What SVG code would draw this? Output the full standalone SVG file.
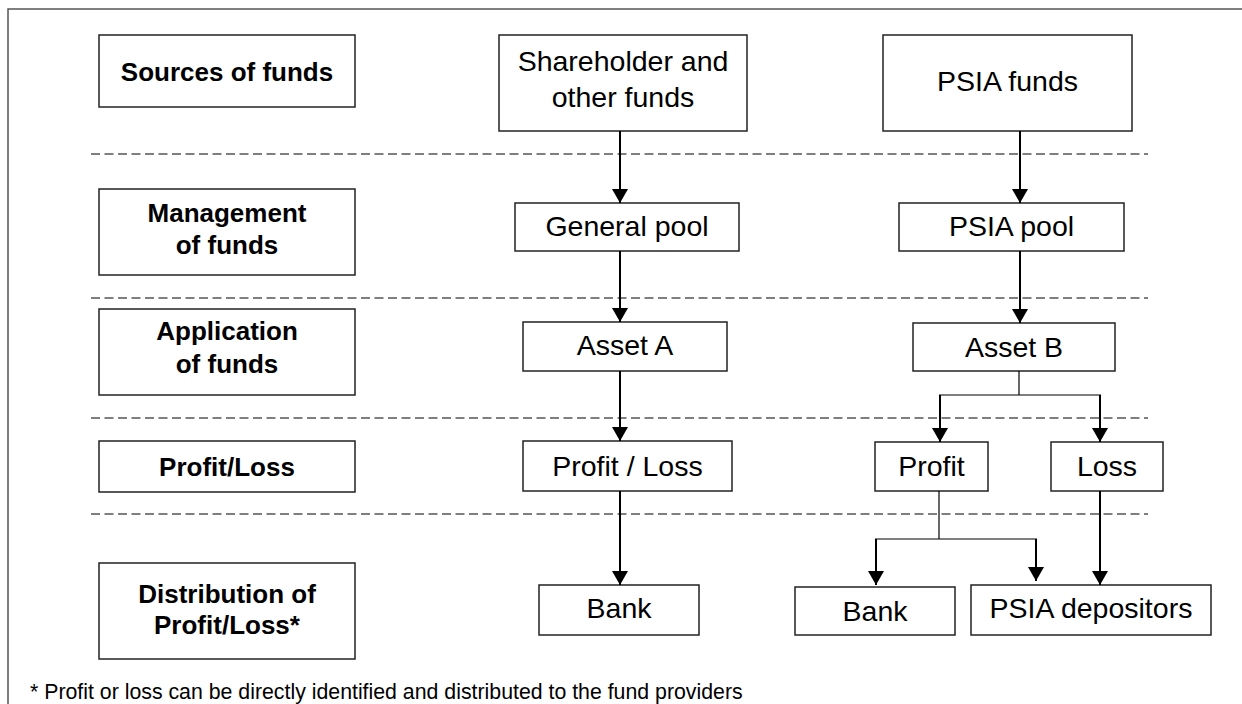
<svg xmlns="http://www.w3.org/2000/svg" width="1242" height="704" viewBox="0 0 1242 704">
<style>
.frame{fill:none;stroke:#555;stroke-width:1.5}
.box{fill:#fff;stroke:#222;stroke-width:1.5}
.dash{stroke:#555;stroke-width:1.6;stroke-dasharray:9 4.5;fill:none}
.lbl{font-family:"Liberation Sans",Arial,sans-serif;font-weight:bold;font-size:26px;fill:#000;text-anchor:middle}
.txt{font-family:"Liberation Sans",Arial,sans-serif;font-size:28.5px;fill:#000;text-anchor:middle}
.note{font-family:"Liberation Sans",Arial,sans-serif;font-size:21.3px;fill:#000}
.arr{stroke:#000;stroke-width:2;fill:none;marker-end:url(#ah)}
.thin{stroke:#000;stroke-width:1.2;fill:none}
</style>
<defs>
<marker id="ah" markerUnits="userSpaceOnUse" markerWidth="15" markerHeight="16" refX="14" refY="8" orient="auto" viewBox="0 0 15 16">
<path d="M0,0 L14,8 L0,16 Z" fill="#000"/>
</marker>
</defs>
<rect width="1242" height="704" fill="#fff"/>
<path class="frame" d="M8,706 V9 H1244"/>
<g id="separators">
<line class="dash" x1="91" y1="154" x2="1148" y2="154"/>
<line class="dash" x1="91" y1="298" x2="1148" y2="298"/>
<line class="dash" x1="91" y1="418" x2="1148" y2="418"/>
<line class="dash" x1="91" y1="514" x2="1148" y2="514"/>
</g>
<g id="label-sources"><rect class="box" x="99" y="35" width="256" height="72"/><text class="lbl" x="227" y="81">Sources of funds</text></g>
<g id="label-management"><rect class="box" x="99" y="189" width="256" height="86"/><text class="lbl" x="227" y="222">Management</text><text class="lbl" x="227" y="254">of funds</text></g>
<g id="label-application"><rect class="box" x="99" y="309" width="256" height="86"/><text class="lbl" x="227" y="340">Application</text><text class="lbl" x="227" y="373">of funds</text></g>
<g id="label-profitloss"><rect class="box" x="99" y="441" width="256" height="51"/><text class="lbl" x="227" y="476">Profit/Loss</text></g>
<g id="label-distribution"><rect class="box" x="99" y="563" width="256" height="96"/><text class="lbl" x="227" y="603">Distribution  of</text><text class="lbl" x="227" y="634">Profit/Loss*</text></g>
<g id="shareholder"><rect class="box" x="499" y="35" width="248" height="96"/><text class="txt" x="623" y="71">Shareholder and</text><text class="txt" x="623" y="107">other funds</text></g>
<g id="psia-funds"><rect class="box" x="883" y="35" width="249" height="96"/><text class="txt" x="1007.5" y="91">PSIA funds</text></g>
<g id="general-pool"><rect class="box" x="515" y="203" width="224" height="48"/><text class="txt" x="627" y="236">General pool</text></g>
<g id="psia-pool"><rect class="box" x="899" y="203" width="225" height="48"/><text class="txt" x="1011.5" y="236">PSIA pool</text></g>
<g id="asset-a"><rect class="box" x="523" y="322" width="204" height="49"/><text class="txt" x="625" y="355">Asset A</text></g>
<g id="asset-b"><rect class="box" x="913" y="323" width="202" height="48"/><text class="txt" x="1014" y="357">Asset B</text></g>
<g id="profit-loss"><rect class="box" x="523" y="441" width="209" height="50"/><text class="txt" x="627.5" y="476">Profit / Loss</text></g>
<g id="profit"><rect class="box" x="875" y="442" width="113" height="49"/><text class="txt" x="931.5" y="476">Profit</text></g>
<g id="loss"><rect class="box" x="1051" y="442" width="112" height="49"/><text class="txt" x="1107" y="476">Loss</text></g>
<g id="bank-a"><rect class="box" x="539" y="585" width="160" height="50"/><text class="txt" x="619" y="618">Bank</text></g>
<g id="bank-b"><rect class="box" x="795" y="587" width="160" height="48"/><text class="txt" x="875" y="621">Bank</text></g>
<g id="psia-depositors"><rect class="box" x="971" y="585" width="240" height="50"/><text class="txt" x="1091" y="618">PSIA depositors</text></g>
<g id="connectors">
<line class="arr" x1="620" y1="131" x2="620" y2="203"/>
<line class="arr" x1="1020" y1="131" x2="1020" y2="203"/>
<line class="arr" x1="620" y1="251" x2="620" y2="322"/>
<line class="arr" x1="1020" y1="251" x2="1020" y2="323"/>
<line class="arr" x1="620" y1="371" x2="620" y2="441"/>
<line class="arr" x1="620" y1="491" x2="620" y2="585"/>
<line class="thin" x1="1019" y1="371" x2="1019" y2="395"/>
<line class="thin" x1="939" y1="395" x2="1101" y2="395"/>
<line class="arr" x1="940" y1="395" x2="940" y2="442"/>
<line class="arr" x1="1100" y1="395" x2="1100" y2="442"/>
<line class="thin" x1="939" y1="491" x2="939" y2="539"/>
<line class="thin" x1="875" y1="539" x2="1037" y2="539"/>
<line class="arr" x1="876" y1="539" x2="876" y2="585"/>
<line class="arr" x1="1036" y1="539" x2="1036" y2="581"/>
<line class="arr" x1="1100" y1="491" x2="1100" y2="585"/>
</g>
<text class="note" x="30" y="699">* Profit or loss can be directly identified and distributed to the fund providers</text>
</svg>
